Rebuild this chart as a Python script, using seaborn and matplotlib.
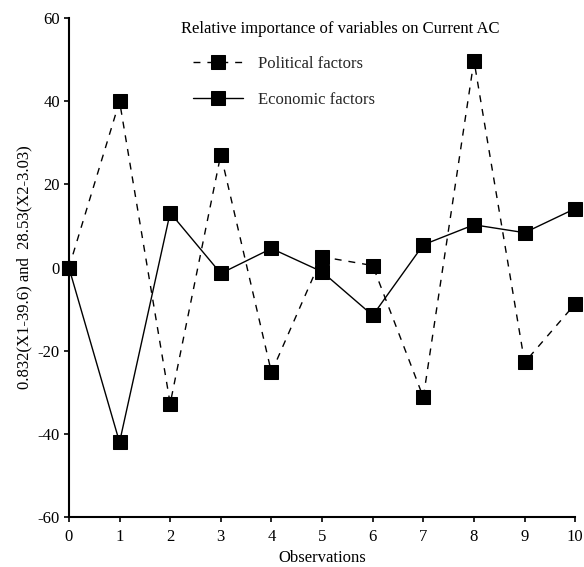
import numpy as np
import pandas as pd
import matplotlib
matplotlib.use('Agg')
import matplotlib.pyplot as plt
import seaborn as sns

# Data
observations = [0, 1, 2, 3, 4, 5, 6, 7, 8, 9, 10]
political = [0, 40, -32.7, 27.2, -25.2, 2.6, 0.5, -31.2, 49.8, -22.8, -8.7]
economic = [0, -42, 13.2, -1.4, 4.6, -1.0, -11.5, 5.5, 10.3, 8.4, 14.2]

sns.set_theme(style='ticks')
plt.rcParams['font.family'] = ['Liberation Serif', 'DejaVu Serif']
plt.rcParams['font.size'] = 12
plt.rcParams['axes.unicode_minus'] = False

fig = plt.figure(figsize=(5.84, 5.67), dpi=100)
ax = fig.add_axes([0.118, 0.088, 0.867, 0.880])

sns.lineplot(x=observations, y=political, ax=ax, color='black', linestyle=(0, (5, 5)),
             linewidth=1.0, marker='s', markersize=9.5, markeredgecolor='black',
             label='Political factors', clip_on=False, zorder=3)
sns.lineplot(x=observations, y=economic, ax=ax, color='black', linestyle='-',
             linewidth=1.0, marker='s', markersize=9.5, markeredgecolor='black',
             label='Economic factors', clip_on=False, zorder=3)

ax.set_xlim(0, 10)
ax.set_ylim(-60, 60)
ax.set_xticks(range(0, 11))
ax.set_yticks(range(-60, 61, 20))
ax.tick_params(axis='both', direction='out', length=3.5, width=1.2, colors='black',
               labelsize=12)
ax.tick_params(axis='x', pad=5)
ax.tick_params(axis='y', pad=3)
for side in ['left', 'bottom']:
    ax.spines[side].set_linewidth(1.5)
    ax.spines[side].set_color('black')
sns.despine(ax=ax)

ax.set_xlabel('Observations', fontsize=12, labelpad=4, color='black')
ax.set_ylabel('0.832(X1-39.6) and  28.53(X2-3.03)', fontsize=12, labelpad=4, color='black')

fig.text(0.582, 0.949, 'Relative importance of variables on Current AC',
         ha='center', va='center', fontsize=12, color='black')

leg = ax.legend(loc='upper left', bbox_to_anchor=(0.216, 0.955), frameon=False,
                fontsize=12, handlelength=3.0, handletextpad=0.9, labelspacing=1.2)

fig.savefig('out.png', dpi=100)
